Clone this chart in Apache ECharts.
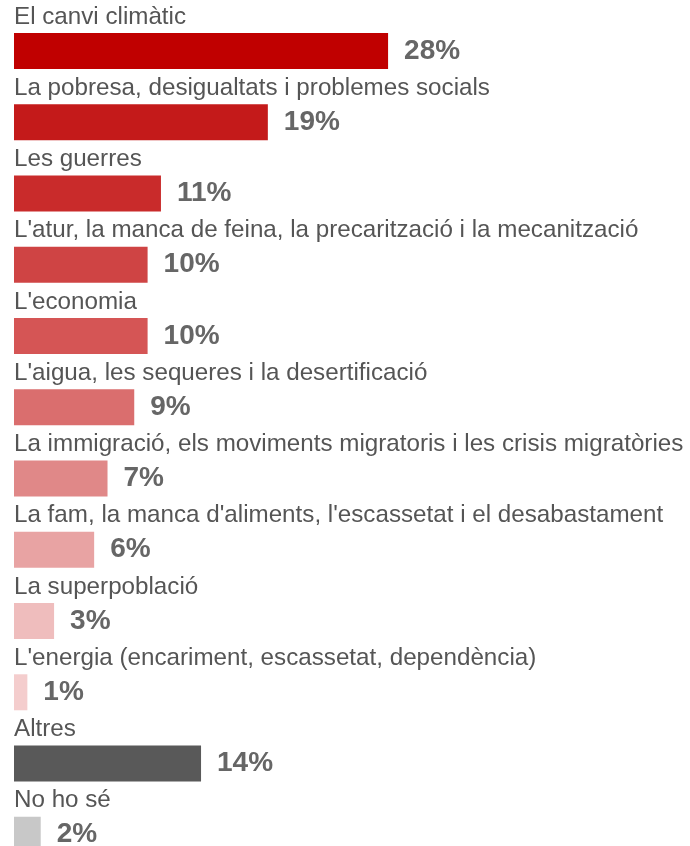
<!DOCTYPE html>
<html>
<head>
<meta charset="utf-8">
<script src="https://cdn.jsdelivr.net/npm/echarts@6/dist/echarts.min.js"></script>
<style>
html,body{margin:0;padding:0;background:#fff;overflow:hidden;}
#chart{width:690px;height:872px;}
</style>
</head>
<body>
<div id="chart"></div>
<script>
const categories = [
  "El canvi climàtic",
  "La pobresa, desigualtats i problemes socials",
  "Les guerres",
  "L'atur, la manca de feina, la precarització i la mecanització",
  "L'economia",
  "L'aigua, les sequeres i la desertificació",
  "La immigració, els moviments migratoris i les crisis migratòries",
  "La fam, la manca d'aliments, l'escassetat i el desabastament",
  "La superpoblació",
  "L'energia (encariment, escassetat, dependència)",
  "Altres",
  "No ho sé"
];
const values = [28, 19, 11, 10, 10, 9, 7, 6, 3, 1, 14, 2];
const barColors = ["#c00000", "#c41a1a", "#c92b2b", "#cf4444", "#d55555", "#da6e6e", "#e08888", "#e8a3a3", "#efbdbd", "#f4cdcd", "#595959", "#c8c8c8"];

const chart = echarts.init(document.getElementById('chart'), null, {renderer: 'canvas'});
chart.setOption({
  animation: false,
  backgroundColor: '#ffffff',
  grid: {left: 14, width: 668, top: 15.4, height: 855, containLabel: false},
  xAxis: {type: 'value', min: 0, max: 50, show: false},
  yAxis: {
    type: 'category',
    data: categories,
    inverse: true,
    axisLine: {show: false},
    axisTick: {show: false},
    splitLine: {show: false},
    axisLabel: {
      inside: true,
      margin: 0,
      align: 'left',
      verticalAlign: 'bottom',
      padding: [0, 0, 22, 0],
      lineHeight: 24,
      fontFamily: '"Liberation Sans", Arial, sans-serif',
      fontSize: 24.2,
      color: '#555555'
    }
  },
  series: [{
    type: 'bar',
    barWidth: 36,
    data: values.map((v, i) => ({value: v, itemStyle: {color: barColors[i]}})),
    label: {
      show: true,
      position: 'right',
      distance: 16,
      offset: [0, 0],
      formatter: '{c}%',
      fontFamily: '"Liberation Sans", Arial, sans-serif',
      fontWeight: 'bold',
      fontSize: 28,
      color: '#666666'
    }
  }]
});
</script>
</body>
</html>
